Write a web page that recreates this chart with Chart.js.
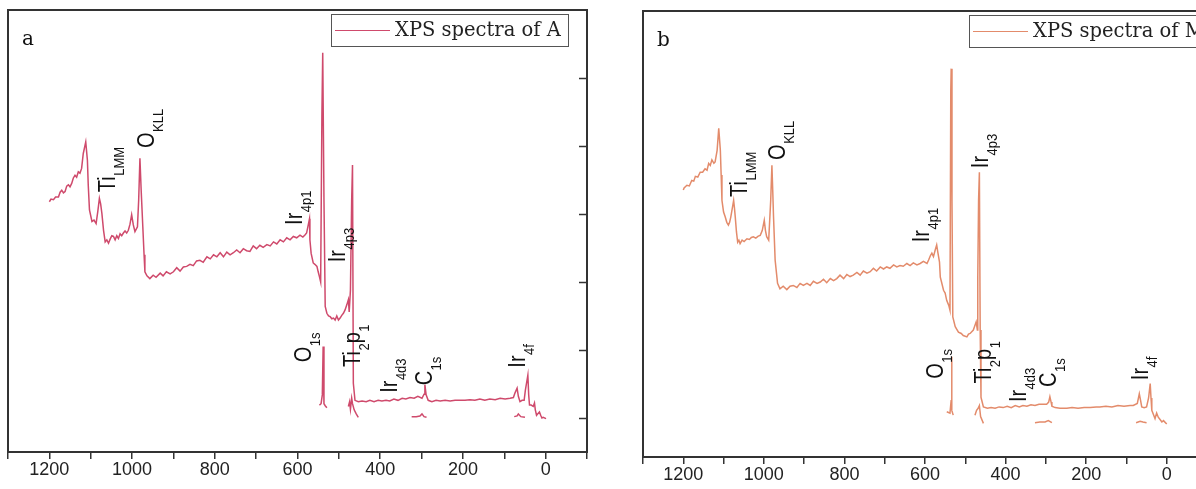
<!DOCTYPE html>
<html>
<head>
<meta charset="utf-8">
<script src="https://cdn.jsdelivr.net/npm/chart.js@4.4.1/dist/chart.umd.min.js"></script>
<style>
  html, body { margin:0; padding:0; background:#fff; overflow:hidden; }
  #wrap { position:relative; width:1196px; height:489px; overflow:hidden; }
  canvas { position:absolute; top:0; }
</style>
</head>
<body>
<div id="wrap">
  <canvas id="chartA" width="598" height="489" style="left:0px"></canvas>
  <canvas id="chartB" width="660" height="489" style="left:598px"></canvas>
</div>
<script>
// ---------- data ----------
const seriesNames = ['XPS spectra of A', 'XPS spectra of M'];
const panelLetters = ['a', 'b'];
const xTickLabels = [1200, 1000, 800, 600, 400, 200, 0];
const yTickValues = [0, 1, 2, 3, 4, 5];

// Panel a – main trace (binding energy eV, intensity a.u.)
const energyA = [1200,1196,1190,1185,1178,1174,1170,1166,1162,1158,1154,1150,1146,1142,1138,1134,1130,1126,1122,1118,1112,1108,1106,1103,1097,1092,1087,1083,1079,1076,1073,1069,1065,1061,1057,1053,1049,1045,1041,1037,1033,1029,1025,1021,1017,1013,1009,1005,1001,997,993,987,984,981,978,974,971,969,964,957,949,942,932,925,917,908,900,892,884,876,868,860,852,844,836,828,819,811,803,795,787,779,771,763,755,747,739,731,723,715,707,699,691,683,674,666,658,650,642,634,626,618,610,602,594,587,582,578,574,571,570,567,562,558,553,550,547,544,541,539,536,533,529,525,521,517,513,509,505,501,497,493,489,485,481,477,475,472,469,467,465,461,453,444,434,425,415,405,396,386,377,367,357,347,338,328,318,309,299,294,292,289,284,275,265,255,243,231,219,207,195,183,171,159,147,135,122,110,98,86,78,74,69,66,62,57,52,49,43,41,39,35,30,27,25,22,15,12,9,6,-1];
const intensityA = [3.18,3.22,3.21,3.25,3.25,3.32,3.35,3.31,3.33,3.41,3.43,3.40,3.45,3.53,3.57,3.54,3.62,3.60,3.67,3.89,4.06,3.79,3.43,3.06,2.89,2.91,2.86,3.03,3.23,3.15,3.01,2.76,2.59,2.62,2.57,2.63,2.68,2.67,2.62,2.68,2.64,2.71,2.68,2.72,2.75,2.72,2.76,2.85,2.99,2.84,2.74,2.81,3.21,3.82,3.35,2.81,2.40,2.15,2.09,2.05,2.10,2.07,2.13,2.09,2.15,2.12,2.15,2.21,2.16,2.22,2.23,2.26,2.24,2.31,2.32,2.29,2.37,2.34,2.40,2.37,2.43,2.37,2.44,2.40,2.43,2.47,2.43,2.49,2.46,2.45,2.53,2.49,2.54,2.51,2.55,2.53,2.59,2.56,2.62,2.59,2.65,2.62,2.67,2.65,2.69,2.66,2.69,2.72,2.84,2.93,2.62,2.42,2.28,2.26,2.23,2.15,2.08,2.00,4.46,5.37,3.21,1.64,1.54,1.50,1.49,1.46,1.47,1.44,1.50,1.44,1.47,1.51,1.54,1.59,1.66,1.74,1.56,1.88,3.21,3.72,0.51,0.26,0.24,0.25,0.24,0.26,0.24,0.26,0.25,0.26,0.25,0.28,0.26,0.29,0.28,0.30,0.29,0.32,0.29,0.35,0.49,0.34,0.26,0.24,0.26,0.25,0.26,0.25,0.26,0.26,0.26,0.27,0.26,0.28,0.26,0.28,0.27,0.29,0.28,0.29,0.30,0.37,0.44,0.32,0.24,0.26,0.26,0.41,0.63,0.34,0.19,0.19,0.17,0.22,0.12,0.04,0.09,0.04,0.00,0.01,-0.01];
// Panel a – separate short scans
const o1sEnergyA = [547,543,540,538,536,533,529];
const o1sIntensityA = [0.19,0.21,0.34,1.05,0.21,0.18,0.15];
const ti2pEnergyA = [477,474,472,469,467,463,458,453];
const ti2pIntensityA = [0.17,0.24,0.13,0.29,0.21,0.12,0.06,0.01];
const c1sEnergyA = [324,313,304,299,294,288];
const c1sIntensityA = [0.02,0.02,0.03,0.06,0.02,0.01];
const ir4fEnergyA = [76,69,66,60,50];
const ir4fIntensityA = [0.02,0.03,0.06,0.02,0.01];

// Panel b – main trace
const energyB = [1200,1198,1191,1185,1179,1174,1170,1164,1158,1152,1146,1141,1137,1133,1129,1124,1121,1116,1112,1108,1106,1104,1100,1096,1092,1088,1085,1082,1075,1073,1071,1068,1065,1062,1059,1054,1049,1042,1036,1031,1026,1020,1014,1009,1004,999,996,993,988,983,980,978,976,972,966,960,952,943,935,927,918,910,902,893,885,877,868,860,852,844,835,827,819,811,802,794,786,778,769,761,753,744,736,728,720,711,703,695,687,678,670,662,654,645,637,629,620,612,604,595,591,587,583,579,575,571,568,564,562,559,554,550,546,541,538,536,535,533,531,525,517,510,505,496,492,488,480,473,470,469,467,465,463,461,455,445,436,426,416,406,396,386,376,366,357,347,337,327,317,307,298,293,290,287,285,277,265,248,235,220,205,190,175,166,151,136,121,106,91,83,73,68,65,62,56,50,45,41,39,37,33,29,25,21,17,12,8,0];
const intensityB = [3.39,3.42,3.46,3.45,3.53,3.52,3.59,3.58,3.65,3.65,3.70,3.68,3.78,3.75,3.83,3.78,3.80,3.97,4.29,3.97,3.61,3.24,3.07,3.00,2.92,2.88,2.92,3.00,3.24,3.13,3.00,2.78,2.63,2.66,2.61,2.66,2.64,2.68,2.67,2.70,2.71,2.69,2.72,2.73,2.80,2.95,2.80,2.71,2.66,3.24,3.75,3.39,3.00,2.37,2.03,1.95,1.99,1.94,1.99,2.00,1.97,2.03,2.00,2.03,2.00,2.06,2.03,2.05,2.09,2.04,2.10,2.07,2.10,2.15,2.10,2.16,2.13,2.15,2.19,2.15,2.21,2.18,2.20,2.25,2.21,2.27,2.24,2.27,2.25,2.30,2.27,2.29,2.28,2.32,2.29,2.33,2.30,2.32,2.35,2.32,2.37,2.43,2.47,2.42,2.51,2.59,2.48,2.34,2.12,2.05,1.93,1.89,1.78,1.71,1.64,4.84,5.16,3.24,1.54,1.40,1.32,1.30,1.27,1.25,1.29,1.30,1.35,1.47,1.35,2.12,3.24,3.65,1.35,0.37,0.23,0.21,0.22,0.21,0.23,0.22,0.24,0.22,0.25,0.23,0.25,0.24,0.26,0.25,0.27,0.27,0.27,0.30,0.38,0.30,0.24,0.22,0.21,0.21,0.22,0.21,0.22,0.22,0.23,0.23,0.24,0.23,0.25,0.24,0.25,0.25,0.28,0.42,0.33,0.23,0.22,0.23,0.36,0.57,0.36,0.18,0.12,0.06,0.14,0.08,0.05,0.01,0.03,-0.02];
// Panel b – separate short scans
const o1sEnergyB = [546,538,535,534,533,530];
const o1sIntensityB = [0.16,0.14,0.33,0.96,0.18,0.11];
const ti2pEnergyB = [476,472,468,465,462,455];
const ti2pIntensityB = [0.11,0.18,0.21,0.25,0.09,-0.01];
const c1sEnergyB = [327,315,302,294,285];
const c1sIntensityB = [0.00,0.01,0.01,0.03,0.00];
const ir4fEnergyB = [76,66,59,50];
const ir4fIntensityB = [0.00,0.02,0.01,0.00];

// Peak annotations (text, anchor energy, anchor intensity)
const peakLabels = ['Ti_{LMM}','O_{KLL}','Ir_{4p1}','Ir_{4p3}','O_{1s}','Ti_{2}p_{1}','Ir_{4d3}','C_{1s}','Ir_{4f}'];
const peakEnergyA = [1041, 947, 589, 485, 567, 449, 359, 275, 50];
const peakIntensityA = [3.32, 3.97, 2.84, 2.29, 0.82, 0.75, 0.37, 0.48, 0.74];
const peakEnergyB = [1042, 947, 591, 443, 555, 436, 349, 275, 46];
const peakIntensityB = [3.29, 3.83, 2.63, 3.71, 0.64, 0.57, 0.30, 0.52, 0.62];

// ---------- helpers ----------
const pts = (E, I) => E.map((e, i) => ({x: e, y: I[i]}));

function drawRotLabel(ctx, text, px, py) {
  const re = /_\{([^}]*)\}|([^_]+)/g;
  let m, cx = 0;
  const stretch = 1.15;
  ctx.save();
  ctx.translate(px, py);
  ctx.rotate(-Math.PI / 2);
  ctx.scale(1, stretch);
  ctx.fillStyle = '#111';
  ctx.textBaseline = 'alphabetic';
  ctx.textAlign = 'left';
  while ((m = re.exec(text)) !== null) {
    const sub = m[1] !== undefined;
    const t = sub ? m[1] : m[2];
    ctx.font = sub ? '13px "Liberation Sans"' : '20px "Liberation Sans"';
    ctx.fillText(t, cx, sub ? 9 / stretch : 0);
    cx += ctx.measureText(t).width + (sub ? 0 : 0.5);
  }
  ctx.restore();
}

function framePlugin(cfg) {
  return {
    id: 'frameDeco',
    afterDraw(chart) {
      const {ctx, chartArea: ca, scales: {x, y}} = chart;
      ctx.save();
      // frame
      ctx.strokeStyle = '#333';
      ctx.lineWidth = 2;
      ctx.strokeRect(ca.left, ca.top, ca.right - ca.left, ca.bottom - ca.top);
      // right-hand y ticks (inward)
      ctx.lineWidth = 1.5;
      yTickValues.forEach(v => {
        const py = Math.round(y.getPixelForValue(v)) + 0.5;
        ctx.beginPath();
        ctx.moveTo(ca.right - 8, py);
        ctx.lineTo(ca.right, py);
        ctx.stroke();
      });
      // panel letter
      ctx.fillStyle = '#111';
      ctx.font = '20px "DejaVu Serif"';
      ctx.textBaseline = 'alphabetic';
      ctx.fillText(cfg.letter, ca.left + 14, ca.top + 35);
      // legend
      const bx = ca.left + cfg.legendOffset, by = ca.top + 4, bw = 237, bh = 32;
      ctx.strokeStyle = '#555';
      ctx.lineWidth = 1;
      ctx.strokeRect(Math.round(bx) + 0.5, Math.round(by) + 0.5, bw, bh);
      ctx.strokeStyle = cfg.color;
      ctx.lineWidth = 1.2;
      ctx.beginPath();
      ctx.moveTo(bx + 4, by + bh / 2 + 0.5);
      ctx.lineTo(bx + 59, by + bh / 2 + 0.5);
      ctx.stroke();
      ctx.fillStyle = '#222';
      ctx.font = '19.5px "DejaVu Serif"';
      ctx.textBaseline = 'middle';
      ctx.fillText(cfg.name, bx + 64, by + bh / 2 + 1);
      // peak annotations
      peakLabels.forEach((lab, i) => {
        drawRotLabel(ctx, lab, x.getPixelForValue(cfg.labelE[i]), y.getPixelForValue(cfg.labelV[i]));
      });
      ctx.restore();
    }
  };
}

function makeChart(canvasId, cfg) {
  const ds = (data) => ({
    data, showLine: true, borderColor: cfg.color, borderWidth: 1.5,
    pointRadius: 0, tension: 0, fill: false
  });
  return new Chart(document.getElementById(canvasId), {
    type: 'scatter',
    data: { datasets: cfg.series.map(s => ds(s)) },
    options: {
      responsive: false, animation: false, events: [],
      devicePixelRatio: 1,
      layout: { padding: cfg.padding },
      plugins: { legend: { display: false }, tooltip: { enabled: false } },
      scales: {
        x: {
          type: 'linear', reverse: true, min: -100, max: 1300,
          afterFit: (s) => { s.height = cfg.axisHeight; },
          border: { display: false },
          grid: { drawOnChartArea: false, drawTicks: true, tickLength: 7, color: '#333', lineWidth: 1.5 },
          ticks: {
            stepSize: 100, autoSkip: false, maxRotation: 0, padding: 0,
            color: '#222', font: { family: 'Liberation Sans', size: 18 },
            callback: (v) => xTickLabels.includes(v) ? String(v) : ''
          }
        },
        y: { display: false, min: -0.5, max: 6 }
      }
    },
    plugins: [framePlugin(cfg)]
  });
}

makeChart('chartA', {
  color: '#cf4a6c', name: seriesNames[0], letter: panelLetters[0],
  legendOffset: 323, labelE: peakEnergyA, labelV: peakIntensityA,
  padding: { left: 8, top: 10, right: 11, bottom: 0 }, axisHeight: 37,
  series: [pts(energyA, intensityA), pts(o1sEnergyA, o1sIntensityA), pts(ti2pEnergyA, ti2pIntensityA),
           pts(c1sEnergyA, c1sIntensityA), pts(ir4fEnergyA, ir4fIntensityA)]
});

makeChart('chartB', {
  color: '#e38b6b', name: seriesNames[1], letter: panelLetters[1],
  legendOffset: 326, labelE: peakEnergyB, labelV: peakIntensityB,
  padding: { left: 45, top: 11, right: 51, bottom: 0 }, axisHeight: 32,
  series: [pts(energyB, intensityB), pts(o1sEnergyB, o1sIntensityB), pts(ti2pEnergyB, ti2pIntensityB),
           pts(c1sEnergyB, c1sIntensityB), pts(ir4fEnergyB, ir4fIntensityB)]
});
</script>
</body>
</html>
